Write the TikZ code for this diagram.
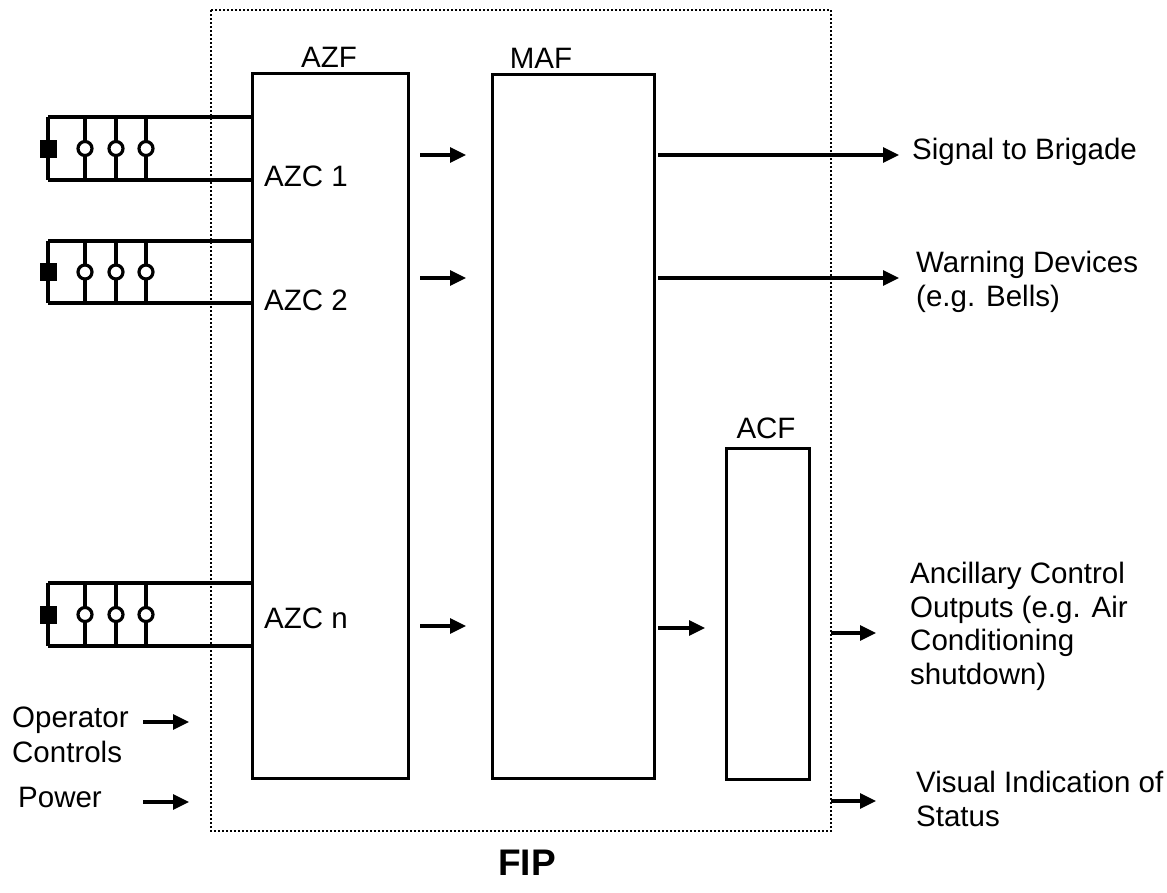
\documentclass[tikz,border=0pt]{standalone}
\usepackage{fontspec}
\setmainfont{Liberation Sans}
\usetikzlibrary{arrows.meta}
\begin{document}
\begin{tikzpicture}[x=1pt,y=-1pt,
  box/.style={draw, line width=3.2pt, inner sep=0pt, anchor=north west},
  wire/.style={line width=3.2pt},
  arr/.style={line width=3.2pt, -{Triangle[length=16pt,width=15pt]}},
  lbl/.style={anchor=base west, inner sep=0pt, font=\fontsize{29.5}{33.5}\selectfont, align=left},
  clbl/.style={lbl, anchor=base},
  border/.style={line width=2pt, dash pattern=on 2pt off 2pt}]
\useasboundingbox (0,0) rectangle (1167,892);
% FIP border
\draw[border] (211,10) rectangle (831,831);
% boxes
\node[box, minimum width=156pt, minimum height=705pt] (azf) at (251,72) {};
\node[box, minimum width=162pt, minimum height=704pt] (maf) at (491,73) {};
\node[box, minimum width=83pt, minimum height=331pt] (acf) at (725,447) {};
% box labels
\node[clbl] (tazf) at (329,67) {AZF};
\node[clbl] (tmaf) at (541,68) {MAF};
\node[clbl] (tacf) at (766,438) {ACF};
\node[lbl] (azc1) at (264,186) {AZC 1};
\node[lbl] (azc2) at (264,310) {AZC 2};
\node[lbl] (azcn) at (264,628) {AZC n};
% sensor circuits
\foreach \t/\b in {117/180, 241/303, 583/646}{
  \pgfmathsetmacro{\m}{(\t+\b)/2}
  \draw[wire] (48,\t) -- (azf.west |- 0,\t);
  \draw[wire] (48,\b) -- (azf.west |- 0,\b);
  \draw[wire] (48,\t) -- (48,\b);
  \foreach \x in {85,116,146}{
    \draw[wire] (\x,\t) -- (\x,\b);
    \draw[wire, fill=white] (\x,\m) circle[radius=7pt];
  }
  \fill (40,\m-9) rectangle (57,\m+9);
}
% arrows AZF -> MAF
\foreach \y/\n in {155/1, 278/2, 626/3}{
  \coordinate (am\n) at (420,\y);
  \coordinate (bm\n) at (466,\y);
  \draw[arr] (am\n) -- (bm\n);
}
% outputs from MAF
\coordinate (o1s) at (658,155); \coordinate (o1e) at (899,155);
\coordinate (o2s) at (658,278); \coordinate (o2e) at (899,278);
\coordinate (o3s) at (658,628); \coordinate (o3e) at (705,628);
\draw[arr] (o1s) -- (o1e);
\draw[arr] (o2s) -- (o2e);
\draw[arr] (o3s) -- (o3e);
% outputs from FIP
\coordinate (o4s) at (831,633); \coordinate (o4e) at (876,633);
\coordinate (o5s) at (831,801); \coordinate (o5e) at (876,801);
\draw[arr] (o4s) -- (o4e);
\draw[arr] (o5s) -- (o5e);
% inputs
\coordinate (i1s) at (143,722); \coordinate (i1e) at (189,722);
\coordinate (i2s) at (143,802); \coordinate (i2e) at (189,802);
\draw[arr] (i1s) -- (i1e);
\draw[arr] (i2s) -- (i2e);
% texts
\node[lbl] (sig) at (912,159) {Signal to Brigade};
\node[lbl] (warn) at (916,306) {Warning Devices\\(e.g. Bells)};
\node[lbl] (anc) at (910,684) {Ancillary Control\\Outputs (e.g. Air\\Conditioning\\shutdown)};
\node[lbl] (vis) at (916,826) {Visual Indication of\\Status};
\node[lbl, font=\fontsize{29.5}{35}\selectfont] (op) at (12,762) {Operator\\Controls};
\node[lbl] (pow) at (18,807) {Power};
\node[anchor=base, inner sep=0pt, font=\fontsize{37}{44}\selectfont\bfseries] (fip) at (527,875) {FIP};
\end{tikzpicture}
\end{document}
